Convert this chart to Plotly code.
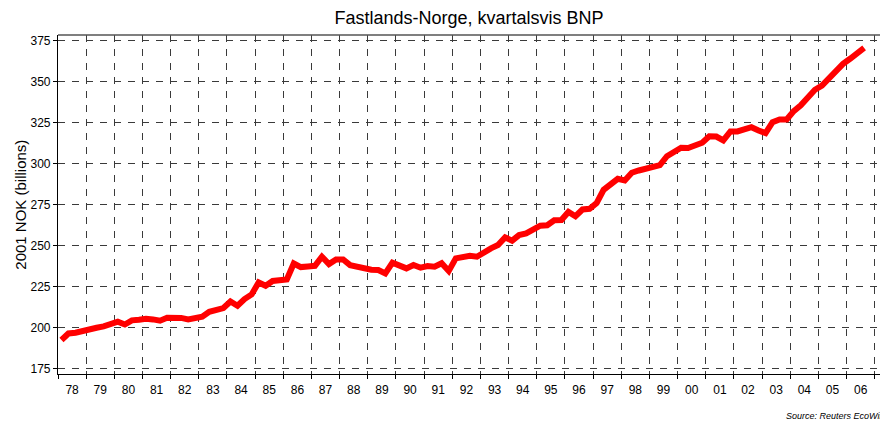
import plotly.graph_objects as go
import pandas as pd

title_text = "Fastlands-Norge, kvartalsvis BNP"
y_title = "2001 NOK (billions)"
source_text = "Source: Reuters EcoWin"

start_quarter = "1978Q1"
gdp = [
    192.5, 196.5, 197.0, 198.2, 199.6, 200.0, 200.8, 202.0,
    203.7, 202.0, 204.5, 204.9, 205.5, 205.1, 204.3, 206.1,
    206.1, 206.0, 205.1, 205.7, 206.7, 209.7, 211.2, 212.0,
    216.0, 213.4, 217.5, 220.3, 227.6, 225.6, 228.5, 229.0,
    229.5, 239.2, 237.0, 237.4, 237.8, 243.3, 238.8, 241.6,
    241.6, 238.2, 237.2, 236.0, 235.4, 235.2, 233.1, 239.7,
    238.1, 236.2, 238.3, 236.6, 237.6, 237.2, 239.3, 234.6,
    242.3, 243.3, 243.9, 243.3, 246.4, 248.4, 250.4, 255.1,
    253.1, 256.5, 257.5, 260.0, 262.2, 262.5, 265.5, 265.7,
    270.6, 268.0, 272.1, 272.5, 276.0, 284.1, 287.2, 290.8,
    289.8, 294.5, 295.9, 296.9, 298.8, 299.2, 304.6, 307.3,
    309.8, 309.6, 311.6, 312.8, 316.8, 316.6, 314.2, 319.7,
    319.7, 320.9, 322.3, 320.3, 318.7, 325.4, 327.0, 327.0,
    332.1, 335.6, 340.2, 345.1, 347.7, 352.2, 356.9, 360.9,
    364.0, 367.7, 370.7,
]
y_ticks = [175, 200, 225, 250, 275, 300, 325, 350, 375]

periods = pd.period_range(start=start_quarter, periods=len(gdp), freq="Q")
# plot each quarter at its midpoint
x_dates = [p.start_time + (p.end_time - p.start_time) / 2 for p in periods]

fig = go.Figure()
fig.add_trace(go.Scatter(
    x=x_dates, y=gdp, mode="lines",
    line=dict(color="#ff0000", width=6),
    showlegend=False, hoverinfo="skip",
))

font_family = "Liberation Sans, Arial, sans-serif"

fig.update_layout(
    width=880, height=424,
    margin=dict(l=58, r=0, t=35, b=50),
    paper_bgcolor="white", plot_bgcolor="white",
    font=dict(family=font_family, color="black"),
    title=dict(text=title_text, x=0.5, xref="paper", xanchor="center",
               y=0.9575, yref="container", yanchor="middle",
               font=dict(size=18, family=font_family, color="black")),
    xaxis=dict(
        type="date",
        range=["1978-01-01", "2007-03-10"],
        tick0="1978-01-01", dtick="M12", tickformat="%y",
        ticklabelmode="period",
        showgrid=True, gridcolor="#3a3a3a", gridwidth=1, griddash="7px,7px",
        showline=True, linecolor="black", linewidth=1.2, mirror=False,
        ticks="outside", ticklen=4, tickcolor="black",
        tickfont=dict(size=12, family=font_family, color="black"),
        zeroline=False,
    ),
    yaxis=dict(
        range=[171.8, 378.5],
        tickvals=y_ticks,
        showgrid=True, gridcolor="#3a3a3a", gridwidth=1, griddash="7px,7px",
        showline=True, linecolor="black", linewidth=1.2,
        ticks="outside", ticklen=4, tickcolor="black",
        tickfont=dict(size=12, family=font_family, color="black"),
        zeroline=False,
    ),
)

# top border line
fig.add_shape(type="line", xref="paper", yref="paper", x0=0, x1=1, y0=1, y1=1,
              line=dict(color="#555555", width=1.5))

fig.add_annotation(text=y_title, xref="paper", yref="paper",
                   x=-0.046, y=0.5, xanchor="center", yanchor="middle",
                   textangle=-90, showarrow=False,
                   font=dict(size=15, family=font_family, color="black"))

fig.add_annotation(text="<i>" + source_text + "</i>", xref="paper", yref="paper",
                   x=0.883, y=-0.124, xanchor="left", yanchor="middle",
                   showarrow=False, font=dict(size=9, family=font_family, color="black"))

fig.write_html(
    "out.html",
    config={"displayModeBar": False},
    post_script="document.body.style.margin='0';document.body.style.overflow='hidden';",
)
